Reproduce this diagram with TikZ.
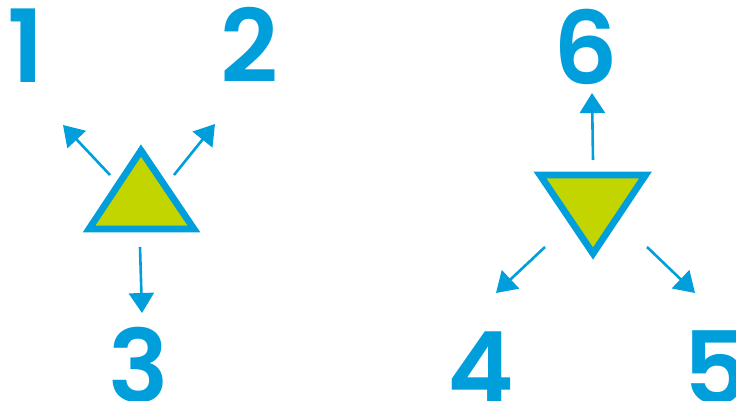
\documentclass[tikz,border=0pt]{standalone}
\usepackage{fontspec}
\setmainfont{Poppins}[BoldFont={Poppins SemiBold}]
\usetikzlibrary{arrows.meta}
\definecolor{cyan}{HTML}{009EDB}
\definecolor{lime}{HTML}{C2D500}
\tikzset{
  num/.style={font=\bfseries\fontsize{101}{101}\selectfont,text=cyan,inner sep=0,anchor=base},
  arr/.style={-{Triangle[length=20pt,width=25pt]},line width=2.6pt,draw=cyan},
  tri/.style={draw=cyan,fill=lime,line width=6.8pt,line join=miter}
}
\begin{document}
\begin{tikzpicture}[x=1pt,y=-1pt]
  \path[use as bounding box] (0,0) rectangle (736,401);

  % up triangle and its outputs
  \draw[tri] (141,150.5) -- (89,229) -- (194,229) -- cycle;
  \node[num] (n1) at (26,83) {1};
  \node[num] (n2) at (249,83) {2};
  \node[num] (n3) at (139,402) {3};
  \coordinate (a1) at (110,175);
  \coordinate (t1) at (63,125);
  \coordinate (a2) at (174,175);
  \coordinate (t2) at (215,124);
  \coordinate (a3) at (140,247);
  \coordinate (t3) at (142,313);
  \draw[arr] (a1) -- (t1);
  \draw[arr] (a2) -- (t2);
  \draw[arr] (a3) -- (t3);

  % down triangle and its outputs
  \draw[tri] (540,175) -- (645.5,175) -- (593,253.5) -- cycle;
  \node[num] (n6) at (586,85) {6};
  \node[num] (n4) at (481,404) {4};
  \node[num] (n5) at (716,404) {5};
  \coordinate (a6) at (593,160);
  \coordinate (t6) at (592,93);
  \coordinate (a4) at (545,247);
  \coordinate (t4) at (496,293);
  \coordinate (a5) at (647,247);
  \coordinate (t5) at (695,293);
  \draw[arr] (a6) -- (t6);
  \draw[arr] (a4) -- (t4);
  \draw[arr] (a5) -- (t5);
\end{tikzpicture}
\end{document}
